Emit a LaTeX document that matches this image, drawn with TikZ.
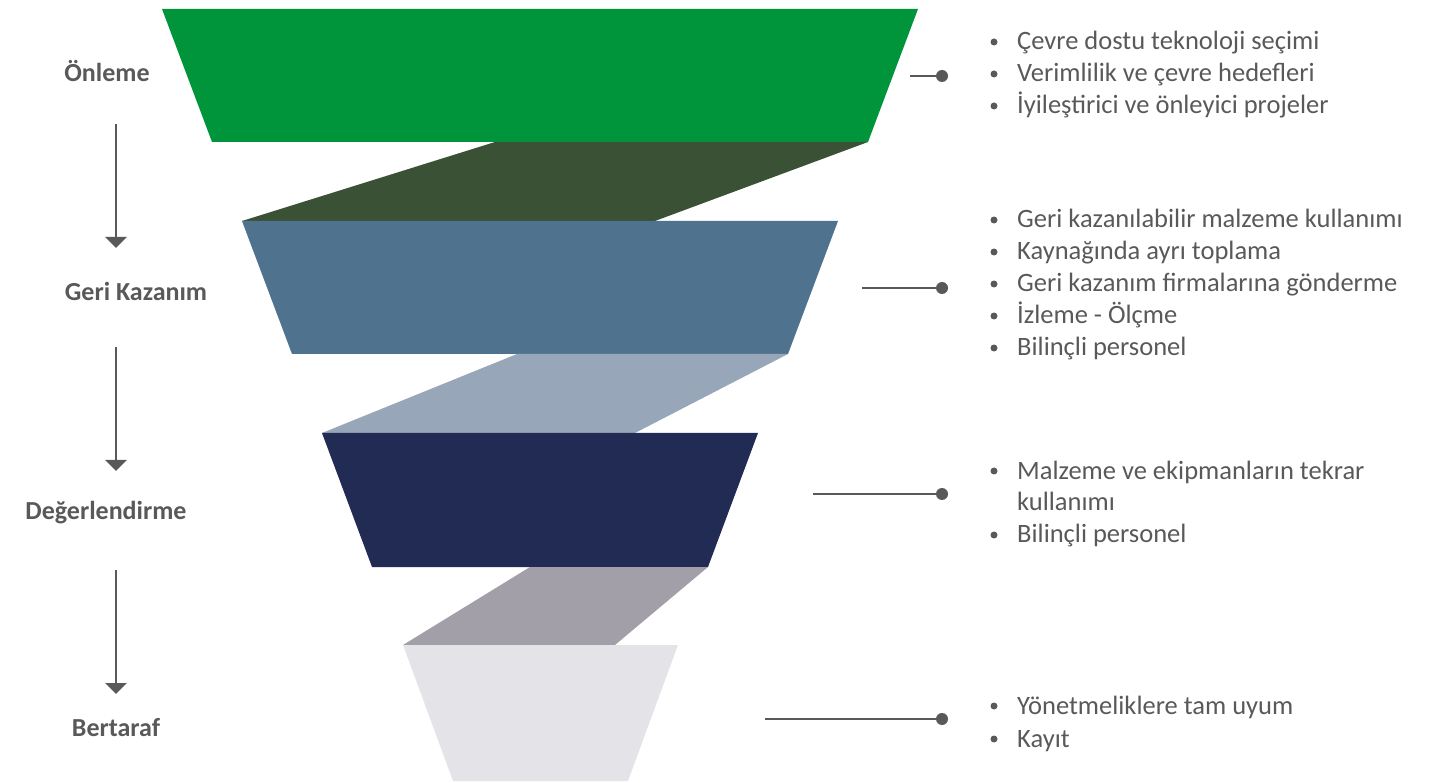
\documentclass[tikz,border=0pt]{standalone}
\usepackage{fontspec}
\setmainfont{Carlito}
\usetikzlibrary{arrows.meta}
\definecolor{cgreen}{HTML}{00953A}
\definecolor{cdkgreen}{HTML}{3A5136}
\definecolor{cblue}{HTML}{4F728E}
\definecolor{cltblue}{HTML}{98A6B9}
\definecolor{cnavy}{HTML}{212B53}
\definecolor{cgray}{HTML}{A39FA9}
\definecolor{cltgray}{HTML}{E4E3E7}
\definecolor{ctext}{HTML}{595959}
\tikzset{
  lbl/.style={font=\fontsize{26}{31}\selectfont\bfseries, text=ctext, anchor=base, inner sep=0pt},
  itm/.style={font=\fontsize{26.5}{32}\selectfont, text=ctext, anchor=base west, inner sep=0pt},
  bul/.style={circle, fill=ctext, minimum size=7pt, inner sep=0pt},
  conn/.style={draw=ctext, line width=2.5pt},
  dot/.style={circle, fill=ctext, minimum size=12pt, inner sep=0pt},
  flow/.style={draw=ctext, line width=2.2pt, -{Triangle[width=21pt,length=11pt]}}
}
\begin{document}
\begin{tikzpicture}[x=1pt,y=-1pt]
\useasboundingbox (0,0) rectangle (1452,783);
% funnel
\fill[cgreen] (162,9) -- (918,9) -- (868,142) -- (212,142) -- cycle;
\fill[cdkgreen] (495,142) -- (868,142) -- (655,221) -- (242,221) -- cycle;
\fill[cblue] (242,221) -- (838,221) -- (788,354) -- (292,354) -- cycle;
\fill[cltblue] (517,354) -- (788,354) -- (635,433) -- (322,433) -- cycle;
\fill[cnavy] (322,433) -- (758,433) -- (708,567) -- (372,567) -- cycle;
\fill[cgray] (530,567) -- (708,567) -- (615,645) -- (403,645) -- cycle;
\fill[cltgray] (403,645) -- (678,645) -- (628,781) -- (453,781) -- cycle;
% left labels
\node[lbl] (l1) at (107,82) {Önleme};
\node[lbl] (l2) at (136,301) {Geri Kazanım};
\node[lbl] (l3) at (106,519) {Değerlendirme};
\node[lbl] (l4) at (116,736) {Bertaraf};
\coordinate (a1s) at (116,124); \coordinate (a1e) at (116,248);
\coordinate (a2s) at (116,347); \coordinate (a2e) at (116,471);
\coordinate (a3s) at (116,570); \coordinate (a3e) at (116,694);
\draw[flow] (a1s) -- (a1e);
\draw[flow] (a2s) -- (a2e);
\draw[flow] (a3s) -- (a3e);
% connectors
\coordinate (c1) at (910,76); \node[dot] (d1) at (942,76) {};
\coordinate (c2) at (862,288); \node[dot] (d2) at (942,288) {};
\coordinate (c3) at (813,494); \node[dot] (d3) at (942,494) {};
\coordinate (c4) at (765,719); \node[dot] (d4) at (942,719) {};
\draw[conn] (c1) -- (d1.center);
\draw[conn] (c2) -- (d2.center);
\draw[conn] (c3) -- (d3.center);
\draw[conn] (c4) -- (d4.center);
% right items
\node[bul] (b11) at (994,42) {}; \node[itm] (t11) at (1017,50) {Çevre dostu teknoloji seçimi};
\node[bul] (b12) at (994,74) {}; \node[itm] (t12) at (1017,82) {Verimlilik ve çevre hedefleri};
\node[bul] (b13) at (994,106) {}; \node[itm] (t13) at (1017,114) {İyileştirici ve önleyici projeler};
\node[bul] (b21) at (994,220) {}; \node[itm] (t21) at (1017,228) {Geri kazanılabilir malzeme kullanımı};
\node[bul] (b22) at (994,252) {}; \node[itm] (t22) at (1017,260) {Kaynağında ayrı toplama};
\node[bul] (b23) at (994,284) {}; \node[itm] (t23) at (1017,292) {Geri kazanım firmalarına gönderme};
\node[bul] (b24) at (994,316) {}; \node[itm] (t24) at (1017,324) {İzleme - Ölçme};
\node[bul] (b25) at (994,348) {}; \node[itm] (t25) at (1017,356) {Bilinçli personel};
\node[bul] (b31) at (994,471) {}; \node[itm] (t31) at (1017,479) {Malzeme ve ekipmanların tekrar};
\node[itm] (t32) at (1017,511) {kullanımı};
\node[bul] (b33) at (994,535) {}; \node[itm] (t33) at (1017,543) {Bilinçli personel};
\node[bul] (b41) at (994,706) {}; \node[itm] (t41) at (1017,714) {Yönetmeliklere tam uyum};
\node[bul] (b42) at (994,739) {}; \node[itm] (t42) at (1017,747) {Kayıt};
\end{tikzpicture}
\end{document}
